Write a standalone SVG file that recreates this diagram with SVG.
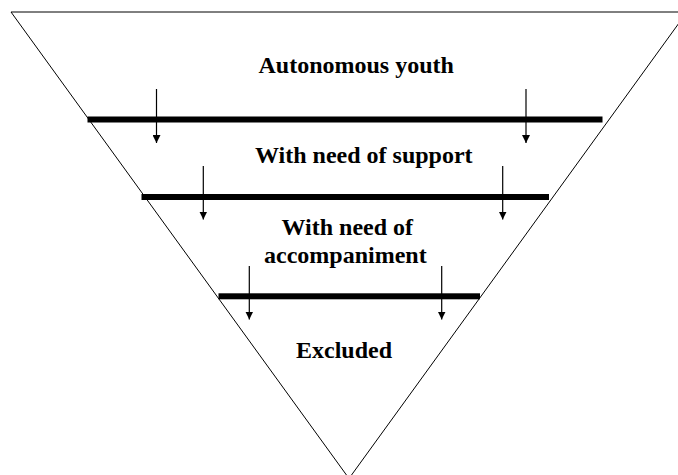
<svg xmlns="http://www.w3.org/2000/svg" width="678" height="475" viewBox="0 0 678 475">
  <style>
    .lbl { font-family: "Liberation Serif", "Times New Roman", serif; font-weight: bold; font-size: 24px; fill: #000; }
    .bar { fill: #000; }
    .arr { stroke: #000; stroke-width: 1.2; fill: none; marker-end: url(#ah); }
  </style>
  <defs>
    <marker id="ah" viewBox="0 0 8 8" refX="8" refY="4" markerWidth="8" markerHeight="8" markerUnits="userSpaceOnUse" orient="auto">
      <path d="M0,0 L8,4 L0,8 Z" fill="#000"/>
    </marker>
  </defs>
  <rect width="678" height="475" fill="#fff"/>
  <g id="funnel">
    <polygon points="11,12 687,12 349,478.5" fill="none" stroke="#000" stroke-width="1"/>
  </g>
  <g id="level-autonomous">
    <text class="lbl" x="258.5" y="72.5">Autonomous youth</text>
  </g>
  <g id="level-support">
    <rect class="bar" x="87.5" y="116.5" width="515" height="6"/>
    <text class="lbl" x="255" y="163">With need of support</text>
  </g>
  <g id="level-accompaniment">
    <rect class="bar" x="141.5" y="194" width="407.5" height="6"/>
    <text class="lbl" x="281.5" y="234.5">With need of</text>
    <text class="lbl" x="264" y="262.5">accompaniment</text>
  </g>
  <g id="level-excluded">
    <rect class="bar" x="218.5" y="293.3" width="261.5" height="6"/>
    <text class="lbl" x="296" y="358">Excluded</text>
  </g>
  <g id="connectors">
    <line class="arr" x1="156.5" y1="89" x2="156.5" y2="143"/>
    <line class="arr" x1="526" y1="89" x2="526" y2="143"/>
    <line class="arr" x1="203.3" y1="166" x2="203.3" y2="219.5"/>
    <line class="arr" x1="502.7" y1="166" x2="502.7" y2="219.5"/>
    <line class="arr" x1="249.3" y1="266" x2="249.3" y2="319.5"/>
    <line class="arr" x1="441.7" y1="266" x2="441.7" y2="319.5"/>
  </g>
</svg>
